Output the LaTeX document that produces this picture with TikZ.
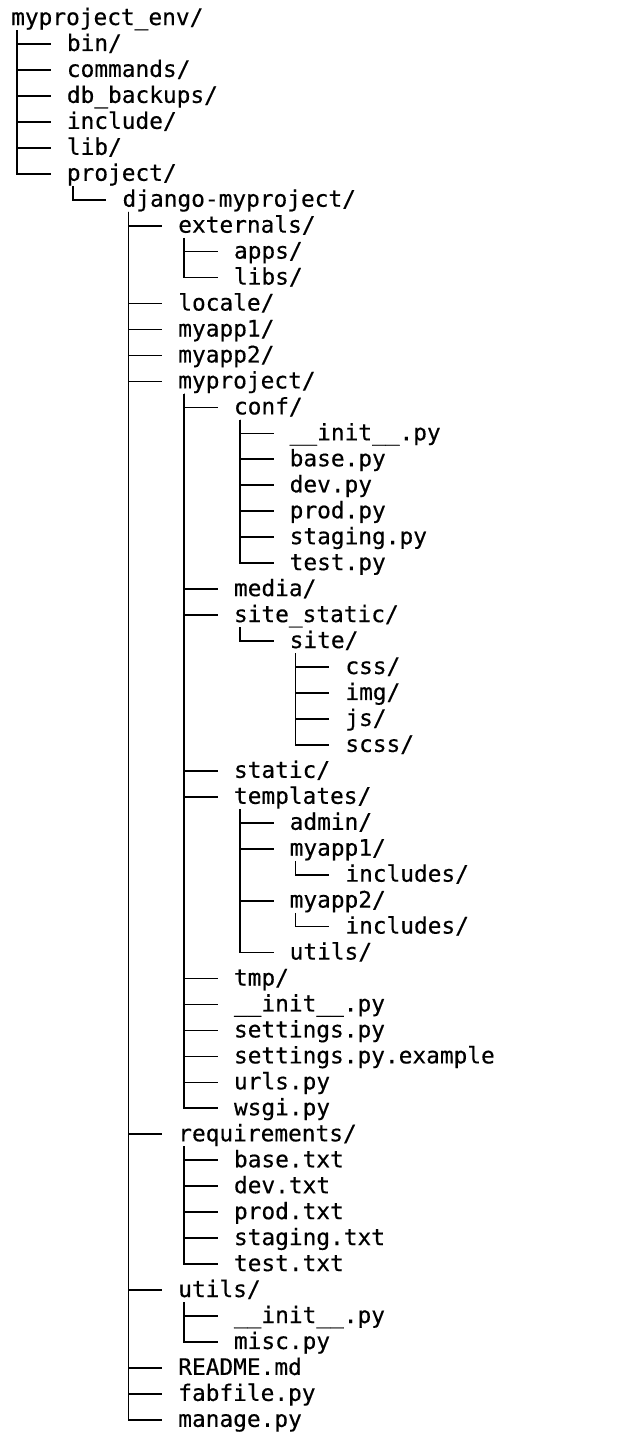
\documentclass[tikz,border=0pt]{standalone}
\usepackage{fontspec}
\setmonofont[FakeBold=0.4]{DejaVu Sans Mono}
\usepackage{tikz}
\usetikzlibrary{calc}

\begin{document}
\begin{tikzpicture}[
    x=55.7pt, y=-25.96pt,
    entry/.style={anchor=base west, inner sep=0pt, text height=17pt, text depth=5pt,
                  font=\ttfamily\fontsize{22.8pt}{26pt}\selectfont},
    branch/.style={draw=black, line width=1.7pt}
]
\useasboundingbox (0pt,0pt) rectangle (644pt,-1444pt);

\begin{scope}[shift={(11pt,-25pt)}]
% ---- Top level ----
\node[entry] (env) at (0,0) {myproject\_env/};
\node[entry] (bin) at (1,1) {bin/};
\node[entry] (commands) at (1,2) {commands/};
\node[entry] (backups) at (1,3) {db\_backups/};
\node[entry] (include) at (1,4) {include/};
\node[entry] (lib) at (1,5) {lib/};
\node[entry] (project) at (1,6) {project/};
\node[entry] (django) at (2,7) {django-myproject/};

% ---- django-myproject ----
\node[entry] (externals) at (3,8) {externals/};
\node[entry] (apps) at (4,9) {apps/};
\node[entry] (libs) at (4,10) {libs/};
\node[entry] (locale) at (3,11) {locale/};
\node[entry] (myappone) at (3,12) {myapp1/};
\node[entry] (myapptwo) at (3,13) {myapp2/};
\node[entry] (myproject) at (3,14) {myproject/};

% ---- myproject/conf ----
\node[entry] (conf) at (4,15) {conf/};
\node[entry] (confinit) at (5,16) {\_\_init\_\_.py};
\node[entry] (confbase) at (5,17) {base.py};
\node[entry] (confdev) at (5,18) {dev.py};
\node[entry] (confprod) at (5,19) {prod.py};
\node[entry] (confstaging) at (5,20) {staging.py};
\node[entry] (conftest) at (5,21) {test.py};

% ---- myproject static files ----
\node[entry] (media) at (4,22) {media/};
\node[entry] (sitestatic) at (4,23) {site\_static/};
\node[entry] (site) at (5,24) {site/};
\node[entry] (css) at (6,25) {css/};
\node[entry] (img) at (6,26) {img/};
\node[entry] (js) at (6,27) {js/};
\node[entry] (scss) at (6,28) {scss/};
\node[entry] (static) at (4,29) {static/};

% ---- myproject/templates ----
\node[entry] (templates) at (4,30) {templates/};
\node[entry] (admin) at (5,31) {admin/};
\node[entry] (tplone) at (5,32) {myapp1/};
\node[entry] (tploneinc) at (6,33) {includes/};
\node[entry] (tpltwo) at (5,34) {myapp2/};
\node[entry] (tpltwoinc) at (6,35) {includes/};
\node[entry] (tplutils) at (5,36) {utils/};

% ---- myproject files ----
\node[entry] (tmp) at (4,37) {tmp/};
\node[entry] (projinit) at (4,38) {\_\_init\_\_.py};
\node[entry] (settings) at (4,39) {settings.py};
\node[entry] (settingsex) at (4,40) {settings.py.example};
\node[entry] (urls) at (4,41) {urls.py};
\node[entry] (wsgi) at (4,42) {wsgi.py};

% ---- requirements ----
\node[entry] (requirements) at (3,43) {requirements/};
\node[entry] (reqbase) at (4,44) {base.txt};
\node[entry] (reqdev) at (4,45) {dev.txt};
\node[entry] (reqprod) at (4,46) {prod.txt};
\node[entry] (reqstaging) at (4,47) {staging.txt};
\node[entry] (reqtest) at (4,48) {test.txt};

% ---- utils and root files ----
\node[entry] (utils) at (3,49) {utils/};
\node[entry] (utilsinit) at (4,50) {\_\_init\_\_.py};
\node[entry] (misc) at (4,51) {misc.py};
\node[entry] (readme) at (3,52) {README.md};
\node[entry] (fabfile) at (3,53) {fabfile.py};
\node[entry] (manage) at (3,54) {manage.py};
\end{scope}

% ---- Branches ----
\foreach \p/\c in {env/bin, env/commands, env/backups, env/include, env/lib, env/project,
    project/django,
    django/externals, django/locale, django/myappone, django/myapptwo, django/myproject,
    django/requirements, django/utils, django/readme, django/fabfile, django/manage,
    externals/apps, externals/libs,
    myproject/conf, myproject/media, myproject/sitestatic, myproject/static,
    myproject/templates, myproject/tmp, myproject/projinit, myproject/settings,
    myproject/settingsex, myproject/urls, myproject/wsgi,
    conf/confinit, conf/confbase, conf/confdev, conf/confprod, conf/confstaging, conf/conftest,
    sitestatic/site, site/css, site/img, site/js, site/scss,
    templates/admin, templates/tplone, templates/tpltwo, templates/tplutils,
    tplone/tploneinc, tpltwo/tpltwoinc,
    requirements/reqbase, requirements/reqdev, requirements/reqprod,
    requirements/reqstaging, requirements/reqtest,
    utils/utilsinit, utils/misc}
    \draw[branch] ([xshift=6pt]\p.south west) |- ([xshift=-16pt,yshift=7pt]\c.base west);

\end{tikzpicture}
\end{document}
